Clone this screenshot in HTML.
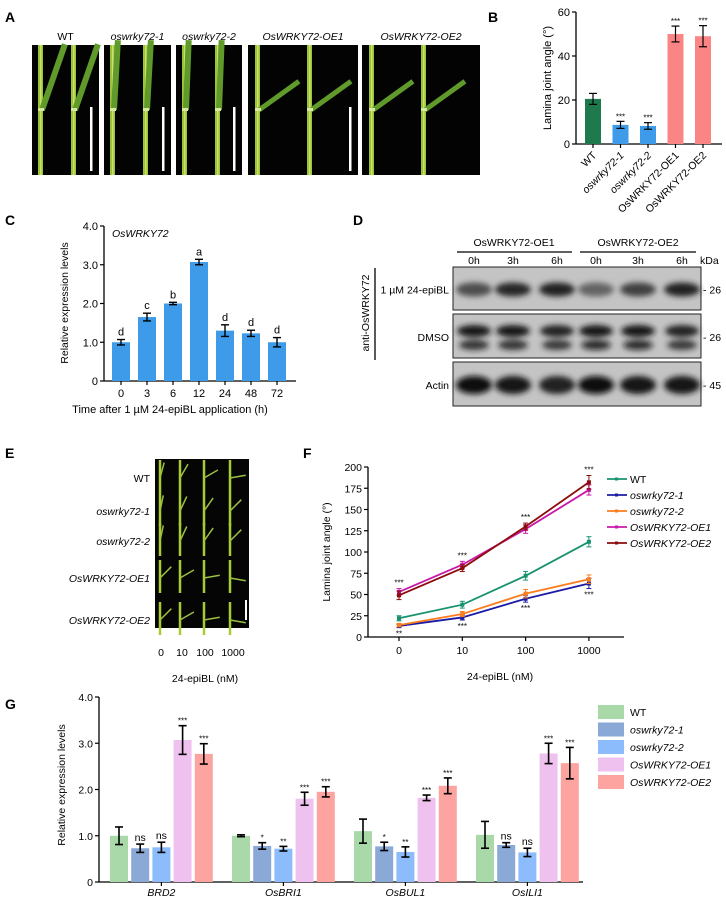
<!DOCTYPE html>
<html><head><meta charset="utf-8">
<style>
body{margin:0;background:#fff;}
svg{display:block;font-family:"Liberation Sans",Arial,sans-serif;}
.it{font-style:italic}
</style></head>
<body>
<svg id="fig" width="726" height="903" viewBox="0 0 726 903" xmlns="http://www.w3.org/2000/svg">
<defs>
<filter id="blur" x="-50%" y="-50%" width="200%" height="200%"><feGaussianBlur stdDeviation="3"/></filter>
</defs>
<g font-weight="bold" font-size="14" fill="#000">
<text x="5" y="22">A</text>
<text x="488" y="22">B</text>
<text x="5" y="225">C</text>
<text x="353" y="225">D</text>
<text x="5" y="458">E</text>
<text x="303" y="458">F</text>
<text x="5" y="709">G</text>
</g>
<g id="panelA"></g>
<g id="panelB"></g>
<g id="panelC"></g>
<g id="panelD"></g>
<g id="panelE"></g>
<g id="panelF"></g>
<g id="panelG"></g>
</svg>
<script>
// ---------- Data ----------
const bCategories = ["WT","oswrky72-1","oswrky72-2","OsWRKY72-OE1","OsWRKY72-OE2"];
const bValues = [20.5, 8.7, 8.2, 50, 49];
const bErrors = [2.5, 1.6, 1.5, 3.6, 4.8];
const bTicks = [0, 20, 40, 60];

const cCategories = ["0","3","6","12","24","48","72"];
const cValues = [1.0, 1.65, 2.0, 3.07, 1.3, 1.23, 1.0];
const cErrors = [0.07, 0.1, 0.03, 0.07, 0.15, 0.08, 0.12];
const cLetters = ["d","c","b","a","d","d","d"];
const cTicks = [0, 1, 2, 3, 4];
const cTickLabels = ["0","1.0","2.0","3.0","4.0"];

const fDoses = ["0","10","100","1000"];
const fSeries = ["WT","oswrky72-1","oswrky72-2","OsWRKY72-OE1","OsWRKY72-OE2"];
const fWT = [22, 38, 72, 112];
const fOsw1 = [13, 23, 45, 63];
const fOsw2 = [14, 27, 51, 68];
const fOE1 = [53, 85, 127, 173];
const fOE2 = [49, 81, 130, 182];
const fErrWT = [3, 4, 5, 6];
const fErrOsw1 = [2, 3, 4, 6];
const fErrOsw2 = [2, 3, 5, 5];
const fErrOE1 = [4, 4, 5, 6];
const fErrOE2 = [5, 4, 4, 8];
const fTicks = [0,25,50,75,100,125,150,175,200];

const gGenes = ["BRD2","OsBRI1","OsBUL1","OsILI1"];
const gSeries = ["WT","oswrky72-1","oswrky72-2","OsWRKY72-OE1","OsWRKY72-OE2"];
const gWT = [1.0, 1.0, 1.1, 1.02];
const gOsw1 = [0.73, 0.78, 0.77, 0.8];
const gOsw2 = [0.75, 0.72, 0.65, 0.64];
const gOE1 = [3.07, 1.8, 1.82, 2.78];
const gOE2 = [2.77, 1.95, 2.08, 2.57];
const gErrWT = [0.19, 0.02, 0.26, 0.29];
const gErrOsw1 = [0.09, 0.07, 0.09, 0.05];
const gErrOsw2 = [0.11, 0.05, 0.11, 0.09];
const gErrOE1 = [0.31, 0.14, 0.06, 0.22];
const gErrOE2 = [0.22, 0.11, 0.17, 0.34];
const gSigOsw1 = ["ns","*","*","ns"];
const gSigOsw2 = ["ns","**","**","ns"];
const gSigOE = ["***","***","***","***"];
const gTicks = [0,1,2,3,4];
const gTickLabels = ["0","1.0","2.0","3.0","4.0"];

const blotBL = [0.55, 0.8, 0.85, 0.4, 0.65, 0.85];
const blotDMSO = [0.9, 0.9, 0.85, 0.95, 0.95, 0.85];
const blotActin = [1, 0.95, 0.85, 1, 0.9, 0.95];

const NS = "http://www.w3.org/2000/svg";
function mk(parent, tag, attrs, text){
  const e = document.createElementNS(NS, tag);
  for (const k in attrs) e.setAttribute(k, attrs[k]);
  if (text !== undefined) e.textContent = text;
  parent.appendChild(e);
  return e;
}
function errbar(g, x, y1, y2, w, color, sw){
  mk(g,"line",{x1:x,x2:x,y1:y1,y2:y2,stroke:color,"stroke-width":sw});
  mk(g,"line",{x1:x-w,x2:x+w,y1:y1,y2:y1,stroke:color,"stroke-width":sw});
  mk(g,"line",{x1:x-w,x2:x+w,y1:y2,y2:y2,stroke:color,"stroke-width":sw});
}

// ---------- Panel A ----------
(function(){
  const g = document.getElementById("panelA");
  const panels = [
    {x:32,w:67,lab:"WT",it:false,ang:20,bar:true},
    {x:104,w:67,lab:"oswrky72-1",it:true,ang:4,bar:true},
    {x:176,w:66,lab:"oswrky72-2",it:true,ang:3,bar:true},
    {x:248,w:110,lab:"OsWRKY72-OE1",it:true,ang:55,bar:true},
    {x:362,w:118,lab:"OsWRKY72-OE2",it:true,ang:55,bar:false}
  ];
  panels.forEach((p,i)=>{
    const pg = mk(g,"g",{});
    
    
    mk(pg,"rect",{x:p.x,y:45,width:p.w,height:130,fill:"#030303"});
    const t = mk(pg,"text",{x:p.x+p.w/2,y:40,"text-anchor":"middle","font-size":"10.5",class:p.it?"it":""},p.lab);
    
    
    const stems = p.w>100 ? [p.x+10, p.x+62] : [p.x+9, p.x+42];
    stems.forEach(sx=>{
      const jy = 110;
      mk(pg,"rect",{x:sx-3,y:45,width:5,height:130,fill:"#9cc236"});
      mk(pg,"rect",{x:sx-1,y:45,width:1.5,height:130,fill:"#c8e070"});
      const a = p.ang*Math.PI/180, L = p.ang>30?50:70;
      const ex = sx+L*Math.sin(a), ey = jy-L*Math.cos(a);
      const ex2 = Math.min(ex, p.x+p.w-1);
      mk(pg,"line",{x1:sx+1,y1:jy,x2:ex2,y2:ey,stroke:"#5f9a2a","stroke-width":p.ang>30?5:6});
      mk(pg,"rect",{x:sx-3,y:jy-2,width:6,height:3,fill:"#d8e8a0"});
    });
    if (p.bar) mk(pg,"rect",{x:p.x+p.w-9,y:107,width:2.5,height:64,fill:"#ffffff"});
  });
})();

// ---------- Panel B ----------
(function(){
  const g = document.getElementById("panelB");
  const x0=576, x1=722, yb=144, yt=12, vmax=60;
  const y = v => yb - v/vmax*(yb-yt);
  const cx = i => 593 + i*27.5;
  const colors = ["#1e7a4c","#3d9be9","#3d9be9","#fb8585","#fb8585"];
  mk(g,"line",{x1:x0,x2:x0,y1:yt,y2:yb,stroke:"#000","stroke-width":1.3});
  mk(g,"line",{x1:x0,x2:x1,y1:yb,y2:yb,stroke:"#000","stroke-width":1.3});
  bTicks.forEach(t=>{
    mk(g,"line",{x1:x0-4,x2:x0,y1:y(t),y2:y(t),stroke:"#000","stroke-width":1.2});
    mk(g,"text",{x:x0-6,y:y(t)+4,"text-anchor":"end","font-size":"11"},t);
  });
  const yl = mk(g,"text",{x:0,y:0,transform:"translate(551,78) rotate(-90)","text-anchor":"middle","font-size":"11"},"Lamina joint angle (°)");
  
  
  bValues.forEach((v,i)=>{
    const r = mk(g,"rect",{x:cx(i)-8,y:y(v),width:16,height:yb-y(v),fill:colors[i]});
    
    
    errbar(g,cx(i),y(v+bErrors[i]),y(v-bErrors[i]),4,"#000",1.2);
    if(i>0) mk(g,"text",{x:cx(i),y:y(v+bErrors[i])-2,"text-anchor":"middle","font-size":"8"},"***");
    mk(g,"line",{x1:cx(i),x2:cx(i),y1:yb,y2:yb+4,stroke:"#000","stroke-width":1.2});
    const lab = mk(g,"text",{x:0,y:0,transform:`translate(${cx(i)+4},${yb+12}) rotate(-45)`,"text-anchor":"end","font-size":"10.5",class:(i==1||i==2)?"it":""},bCategories[i]);
    
    
  });
})();

// ---------- Panel C ----------
(function(){
  const g = document.getElementById("panelC");
  const x0=104, x1=296, yb=381, yt=226, vmax=4;
  const y = v => yb - v/vmax*(yb-yt);
  const cx = i => 121 + i*26;
  mk(g,"line",{x1:x0,x2:x0,y1:yt,y2:yb,stroke:"#000","stroke-width":1.3});
  mk(g,"line",{x1:x0,x2:x1,y1:yb,y2:yb,stroke:"#000","stroke-width":1.3});
  cTicks.forEach((t,i)=>{
    mk(g,"line",{x1:x0-4,x2:x0,y1:y(t),y2:y(t),stroke:"#000","stroke-width":1.2});
    mk(g,"text",{x:x0-6,y:y(t)+4,"text-anchor":"end","font-size":"11"},cTickLabels[i]);
  });
  mk(g,"text",{x:112,y:237,"font-size":"10.5",class:"it"},"OsWRKY72");
  const yl = mk(g,"text",{x:0,y:0,transform:"translate(68,303) rotate(-90)","text-anchor":"middle","font-size":"10.5"},"Relative expression levels");
  
  
  cValues.forEach((v,i)=>{
    const r = mk(g,"rect",{x:cx(i)-9,y:y(v),width:18,height:yb-y(v),fill:"#3d9be9"});
    
    
    errbar(g,cx(i),y(v+cErrors[i]),y(v-cErrors[i]),4,"#000",1.4);
    mk(g,"text",{x:cx(i),y:y(v+cErrors[i])-4,"text-anchor":"middle","font-size":"11"},cLetters[i]);
    mk(g,"line",{x1:cx(i),x2:cx(i),y1:yb,y2:yb+4,stroke:"#000","stroke-width":1.2});
    mk(g,"text",{x:cx(i),y:yb+16,"text-anchor":"middle","font-size":"11"},cCategories[i]);
  });
  const xl = mk(g,"text",{x:170,y:413,"text-anchor":"middle","font-size":"11"},"Time after 1 µM 24-epiBL  application (h)");
  
  
})();

// ---------- Panel D ----------
(function(){
  const g = document.getElementById("panelD");
  const lanes = [474,513,557,596,638,682];
  const times = ["0h","3h","6h","0h","3h","6h"];
  mk(g,"text",{x:514,y:246,"text-anchor":"middle","font-size":"10.5"},"OsWRKY72-OE1");
  mk(g,"text",{x:638,y:246,"text-anchor":"middle","font-size":"10.5"},"OsWRKY72-OE2");
  mk(g,"line",{x1:457,x2:572,y1:252,y2:252,stroke:"#000","stroke-width":1.3});
  mk(g,"line",{x1:580,x2:696,y1:252,y2:252,stroke:"#000","stroke-width":1.3});
  lanes.forEach((x,i)=>mk(g,"text",{x:x,y:264,"text-anchor":"middle","font-size":"10.5"},times[i]));
  mk(g,"text",{x:700,y:264,"font-size":"10.5"},"kDa");
  const boxes = [
    {y:267,h:43,lab:"1 µM 24-epiBL",kd:"26",data:blotBL,double:false},
    {y:314,h:44,lab:"DMSO",kd:"26",data:blotDMSO,double:true},
    {y:362,h:44,lab:"Actin",kd:"45",data:blotActin,double:false}
  ];
  boxes.forEach((b,bi)=>{
    const bg = mk(g,"g",{});
    
    
    mk(bg,"rect",{x:453,y:b.y,width:248,height:b.h,fill:"#c4c4c4",stroke:"#222","stroke-width":1});
    const bands = mk(bg,"g",{filter:"url(#blur)"});
    b.data.forEach((v,i)=>{
      const c = Math.round(160 - v*150);
      const col = `rgb(${c},${c},${c})`;
      if (b.double){
        mk(bands,"ellipse",{cx:lanes[i],cy:b.y+17,rx:17,ry:6,fill:col});
        mk(bands,"ellipse",{cx:lanes[i],cy:b.y+31,rx:15,ry:5,fill:col,opacity:0.85});
      } else {
        mk(bands,"ellipse",{cx:lanes[i],cy:b.y+b.h/2+1,rx:18,ry:bi==2?9:7,fill:col});
      }
    });
    mk(bg,"text",{x:449,y:b.y+b.h/2+5,"text-anchor":"end","font-size":"10.5"},b.lab);
    mk(bg,"text",{x:703,y:b.y+b.h/2+5,"font-size":"10.5"},"- "+b.kd);
  });
  mk(g,"line",{x1:375,x2:375,y1:268,y2:360,stroke:"#000","stroke-width":1.3});
  mk(g,"text",{x:0,y:0,transform:"translate(369,313) rotate(-90)","text-anchor":"middle","font-size":"10.5"},"anti-OsWRKY72");
})();

// ---------- Panel E ----------
(function(){
  const g = document.getElementById("panelE");
  mk(g,"rect",{x:155,y:459,width:94,height:169,fill:"#050505"});
  const rows = [478,511,541,578,620];
  const labs = ["WT","oswrky72-1","oswrky72-2","OsWRKY72-OE1","OsWRKY72-OE2"];
  const cols = [160,180,204,230];
  const angs = [[15,30,60,80],[12,25,35,45],[12,25,35,45],[45,60,80,100],[45,60,80,100]];
  rows.forEach((ry,r)=>{
    const t = mk(g,"text",{x:150,y:ry+4,"text-anchor":"end","font-size":"10.5",class:r?"it":""},labs[r]);
    
    
    cols.forEach((cx,c)=>{
      mk(g,"line",{x1:cx,x2:cx,y1:ry-18,y2:ry+15,stroke:"#a6cc30","stroke-width":2.5});
      const a = angs[r][c]*Math.PI/180;
      mk(g,"line",{x1:cx,y1:ry,x2:cx+16*Math.sin(a),y2:ry-16*Math.cos(a),stroke:"#9cc040","stroke-width":1.5});
    });
  });
  mk(g,"rect",{x:245,y:600,width:2,height:20,fill:"#fff"});
  const eDoseX = [161,182,205,233];
  fDoses.forEach((d,i)=>mk(g,"text",{x:eDoseX[i],y:656,"text-anchor":"middle","font-size":"10.5"},d));
  mk(g,"text",{x:205,y:682,"text-anchor":"middle","font-size":"10.5"},"24-epiBL (nM)");
})();

// ---------- Panel F ----------
(function(){
  const g = document.getElementById("panelF");
  const x0=368, x1=624, yb=637, vmax=200, yt=467;
  const y = v => yb - v/vmax*(yb-yt);
  const xs = i => 399 + i*63.3;
  mk(g,"line",{x1:x0,x2:x0,y1:yt,y2:yb,stroke:"#000","stroke-width":1.3});
  mk(g,"line",{x1:x0,x2:x1,y1:yb,y2:yb,stroke:"#000","stroke-width":1.3});
  fTicks.forEach(t=>{
    mk(g,"line",{x1:x0-4,x2:x0,y1:y(t),y2:y(t),stroke:"#000","stroke-width":1.2});
    mk(g,"text",{x:x0-6,y:y(t)+4,"text-anchor":"end","font-size":"10.5"},t);
  });
  fDoses.forEach((d,i)=>{
    mk(g,"line",{x1:xs(i),x2:xs(i),y1:yb,y2:yb+4,stroke:"#000","stroke-width":1.2});
    mk(g,"text",{x:xs(i),y:yb+17,"text-anchor":"middle","font-size":"10.5"},d);
  });
  const xl = mk(g,"text",{x:500,y:680,"text-anchor":"middle","font-size":"10.5"},"24-epiBL (nM)");
  
  
  const yl = mk(g,"text",{x:0,y:0,transform:"translate(330,552) rotate(-90)","text-anchor":"middle","font-size":"10.5"},"Lamina joint angle (°)");
  
  
  const data = [fWT,fOsw1,fOsw2,fOE1,fOE2];
  const errs = [fErrWT,fErrOsw1,fErrOsw2,fErrOE1,fErrOE2];
  const colors = ["#17926f","#1b1ba6","#fb7d1c","#c918a8","#8c0c0c"];
  data.forEach((s,k)=>{
    const pts = s.map((v,i)=>xs(i)+","+y(v)).join(" ");
    const pl = mk(g,"polyline",{points:pts,fill:"none",stroke:colors[k],"stroke-width":1.8});
    
    
    s.forEach((v,i)=>{
      errbar(g,xs(i),y(v+errs[k][i]),y(v-errs[k][i]),2.5,colors[k],1);
      mk(g,"rect",{x:xs(i)-2,y:y(v)-2,width:4,height:4,fill:colors[k]});
    });
    const ly = 479 + k*16;
    mk(g,"line",{x1:607,x2:627,y1:ly,y2:ly,stroke:colors[k],"stroke-width":1.8});
    mk(g,"rect",{x:615,y:ly-1.5,width:3,height:3,fill:colors[k]});
    const lt = mk(g,"text",{x:630,y:ly+4,"font-size":"10.5",class:k?"it":""},fSeries[k]);
    
    
  });
  fDoses.forEach((d,i)=>{
    const top = Math.max(fOE1[i]+fErrOE1[i], fOE2[i]+fErrOE2[i]);
    mk(g,"text",{x:xs(i),y:y(top)-3,"text-anchor":"middle","font-size":"8"},"***");
    const bot = Math.min(fOsw1[i]-fErrOsw1[i], fOsw2[i]-fErrOsw2[i]);
    mk(g,"text",{x:xs(i),y:y(bot)+9,"text-anchor":"middle","font-size":"8"},i==0?"**":"***");
  });
})();

// ---------- Panel G ----------
(function(){
  const g = document.getElementById("panelG");
  const x0=99, x1=583, yb=882, yt=697, vmax=4;
  const y = v => yb - v/vmax*(yb-yt);
  const gx = gi => 119 + gi*122;
  const colors = ["#a9d9a9","#8aa9d6","#8cbcfb","#efc1ef","#fda3a0"];
  mk(g,"line",{x1:x0,x2:x0,y1:yt,y2:yb,stroke:"#000","stroke-width":1.3});
  mk(g,"line",{x1:x0,x2:x1,y1:yb,y2:yb,stroke:"#000","stroke-width":1.3});
  gTicks.forEach((t,i)=>{
    mk(g,"line",{x1:x0-4,x2:x0,y1:y(t),y2:y(t),stroke:"#000","stroke-width":1.2});
    mk(g,"text",{x:x0-6,y:y(t)+4,"text-anchor":"end","font-size":"10.5"},gTickLabels[i]);
  });
  const yl = mk(g,"text",{x:0,y:0,transform:"translate(65,785) rotate(-90)","text-anchor":"middle","font-size":"10.5"},"Relative expression levels");
  
  
  const data = [gWT,gOsw1,gOsw2,gOE1,gOE2];
  const errs = [gErrWT,gErrOsw1,gErrOsw2,gErrOE1,gErrOE2];
  const sigs = [null,gSigOsw1,gSigOsw2,gSigOE,gSigOE];
  gGenes.forEach((gene,gi)=>{
    data.forEach((s,k)=>{
      const cx = gx(gi) + k*21.2;
      const v = s[gi];
      const r = mk(g,"rect",{x:cx-9,y:y(v),width:18,height:yb-y(v),fill:colors[k]});
      
      
      errbar(g,cx,y(v+errs[k][gi]),y(v-errs[k][gi]),4,"#000",1.6);
      if (sigs[k]){
        const sg = sigs[k][gi];
        mk(g,"text",{x:cx,y:y(v+errs[k][gi])-(sg=="ns"?3:2),"text-anchor":"middle","font-size":sg=="ns"?"10.5":"8"},sg);
      }
    });
    const mx = gx(gi)+2*21.2;
    mk(g,"line",{x1:mx,x2:mx,y1:yb,y2:yb+4,stroke:"#000","stroke-width":1.2});
    const gl = mk(g,"text",{x:mx,y:yb+14,"text-anchor":"middle","font-size":"10.5",class:"it"},gene);
    
    
  });
  gSeries.forEach((s,k)=>{
    const ly = 712 + k*17.5;
    mk(g,"rect",{x:598,y:ly-7,width:26,height:14,fill:colors[k]});
    const lt = mk(g,"text",{x:630,y:ly+4,"font-size":"10.5",class:k?"it":""},s);
    
    
  });
})();
</script>
</body></html>
